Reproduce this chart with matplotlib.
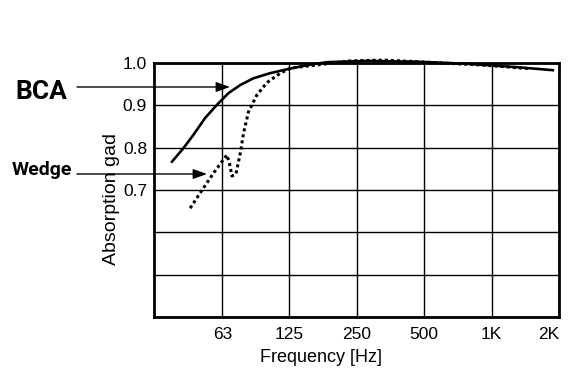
import matplotlib.pyplot as plt
from matplotlib.ticker import FixedLocator, NullLocator

plt.rcParams['font.family'] = ['Liberation Sans', 'DejaVu Sans']

# BCA curve (solid)
bca_freq = [37.6, 42.3, 46.8, 52.8, 59.6, 67.2, 75.8, 86.9, 103, 127, 151, 185, 279, 467, 784, 1310, 1878]
bca_abs = [0.767, 0.799, 0.830, 0.870, 0.901, 0.929, 0.948, 0.964, 0.976, 0.987, 0.995, 1.002, 1.005, 1.003, 0.998, 0.990, 0.983]

# Wedge curve (dotted)
wedge_freq = [45.3, 50.2, 57.6, 66.1, 68.0, 69.6, 72.5, 75.8, 78.4, 82.5, 90.0, 99.8, 114.4, 127, 235, 331, 555, 925, 1452]
wedge_abs = [0.657, 0.693, 0.740, 0.783, 0.760, 0.733, 0.738, 0.787, 0.835, 0.885, 0.925, 0.954, 0.976, 0.988, 1.005, 1.007, 1.001, 0.995, 0.987]

x_ticks = [63, 125, 250, 500, 1000, 2000]
x_labels = ['63', '125', '250', '500', '1K', '2K']
y_ticks = [0.4, 0.5, 0.6, 0.7, 0.8, 0.9, 1.0]
y_labels = ['', '', '', '0.7', '0.8', '0.9', '1.0']

fig = plt.figure(figsize=(5.81, 3.75), dpi=100)
ax = fig.add_axes([154 / 581, 58 / 375, 405 / 581, 254 / 375])

ax.plot(bca_freq, bca_abs, color='black', lw=1.9, clip_on=False, zorder=3)
ax.plot(wedge_freq, wedge_abs, color='black', lw=2.2, linestyle=(0, (1, 1)),
        clip_on=False, zorder=3)

ax.set_xscale('log', base=2)
ax.set_xlim(31.25, 2000)
ax.set_ylim(0.4, 1.0)
ax.xaxis.set_major_locator(FixedLocator(x_ticks))
ax.xaxis.set_minor_locator(NullLocator())
ax.set_xticklabels(x_labels, fontsize=12.5)
ax.set_yticks(y_ticks)
ax.set_yticklabels(y_labels, fontsize=12.5)
ax.tick_params(length=0, pad=7)
ax.tick_params(axis='y', pad=5)
ax.get_xticklabels()[-1].set_ha('right')
ax.grid(True, color='black', lw=1)
for s in ax.spines.values():
    s.set_linewidth(2)

fig.text(321 / 581, 1 - 357 / 375, 'Frequency [Hz]', fontsize=13, ha='center', va='center')
fig.text(112 / 581, 1 - 199 / 375, 'Absorption gad', fontsize=14, rotation=90,
         ha='center', va='center')

fig.text(41 / 581, 1 - 92 / 375, 'BCA', fontsize=19, fontweight='bold',
         family='Roboto', ha='center', va='center')
fig.text(42 / 581, 1 - 170 / 375, 'Wedge', fontsize=14, fontweight='bold',
         family='Roboto', ha='center', va='center')

arrow = dict(arrowstyle='-|>,head_length=0.7,head_width=0.25', color='black', lw=1,
             mutation_scale=12, shrinkA=0, shrinkB=0)
ax.annotate('', xy=(230 / 581, 1 - 87 / 375), xytext=(77 / 581, 1 - 87 / 375),
            xycoords='figure fraction', textcoords='figure fraction', arrowprops=arrow)
ax.annotate('', xy=(207 / 581, 1 - 174 / 375), xytext=(77 / 581, 1 - 174 / 375),
            xycoords='figure fraction', textcoords='figure fraction', arrowprops=arrow)

fig.savefig('out.png', dpi=100)
